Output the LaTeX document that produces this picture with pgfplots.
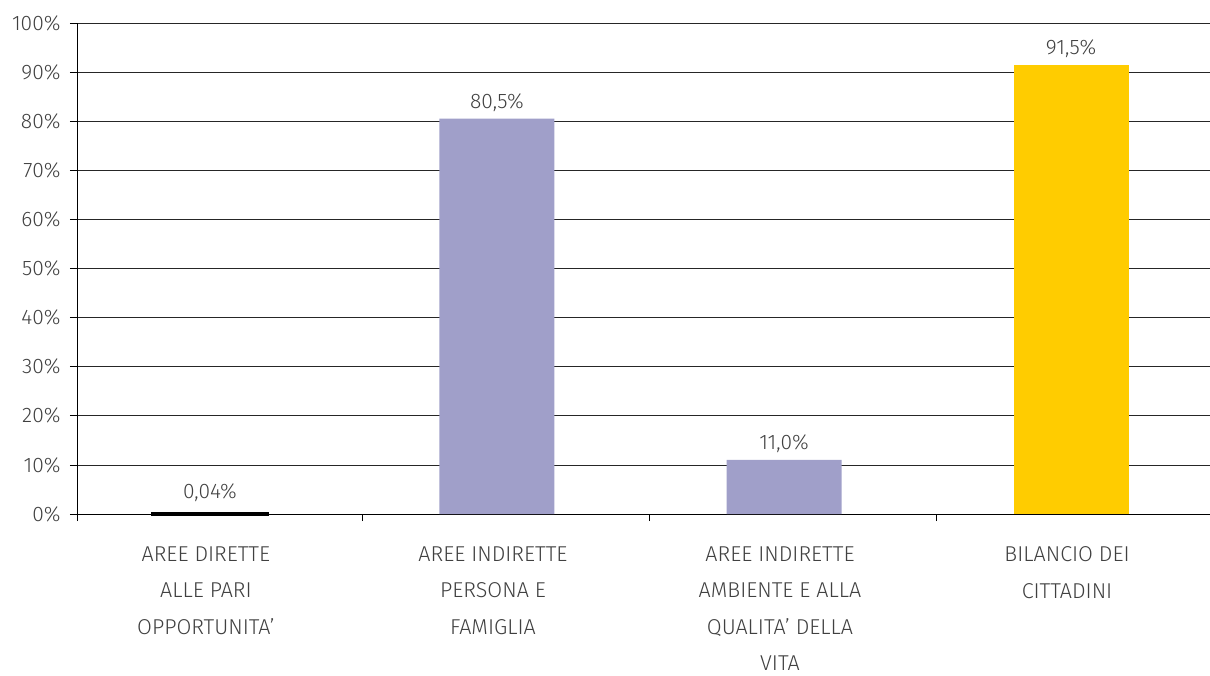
\documentclass[border=0pt]{standalone}
\usepackage{pgfplots}
\pgfplotsset{compat=1.18}
\usepackage{fontspec}
\setmainfont{Fira Sans}[UprightFont=* Light]
\definecolor{lav}{HTML}{A09FC9}
\definecolor{gold}{HTML}{FFCC00}
\definecolor{txt}{HTML}{404040}
\begin{document}
\begin{tikzpicture}
\begin{axis}[
  scale only axis, width=1133pt, height=491pt,
  xmin=-0.463, xmax=3.484, ymin=0, ymax=100,
  axis lines*=left,
  axis line style={black, line width=0.9pt},
  ytick={0,10,...,100},
  yticklabels={0\%,10\%,20\%,30\%,40\%,50\%,60\%,70\%,80\%,90\%,100\%},
  ymajorgrids, grid style={black!85, line width=0.8pt},
  tick align=outside, major tick length=7pt,
  tick style={black, line width=0.8pt},
  xtick={-0.463,0.53,1.53,2.53},
  xticklabels={},
  extra x ticks={0,1,2,3},
  extra x tick labels={{AREE DIRETTE\\ALLE PARI\\OPPORTUNITA'},{AREE INDIRETTE\\PERSONA E\\FAMIGLIA},{AREE INDIRETTE\\AMBIENTE E ALLA\\QUALITA' DELLA\\VITA},{BILANCIO DEI\\CITTADINI}},
  extra x tick style={major tick length=0pt, grid=none,
    tick label style={align=center, font=\fontsize{21.5}{36.5}\selectfont, text=txt, yshift=-29pt, xshift=-4pt}},
  y tick label style={font=\fontsize{21}{24}\selectfont, text=txt, xshift=-6pt},
  ybar, bar width=115pt, bar shift=0pt,
  nodes near coords, point meta=explicit symbolic,
  every node near coord/.append style={font=\fontsize{21}{24}\selectfont, text=txt, anchor=south, yshift=4pt},
  clip=false,
]
\addplot[fill=black, draw=black, line width=3.2pt, every node near coord/.append style={yshift=3pt}] coordinates {(0,0.04) [0,04\%]};
\addplot[fill=lav, draw=none] coordinates {(1,80.5) [80,5\%] (2,11.0) [11,0\%]};
\addplot[fill=gold, draw=none] coordinates {(3,91.5) [91,5\%]};
\end{axis}
\pgfresetboundingbox
\path (current axis.south west) ++(-77pt,-161pt) rectangle ++(1210pt,675pt);
\end{tikzpicture}
\end{document}
